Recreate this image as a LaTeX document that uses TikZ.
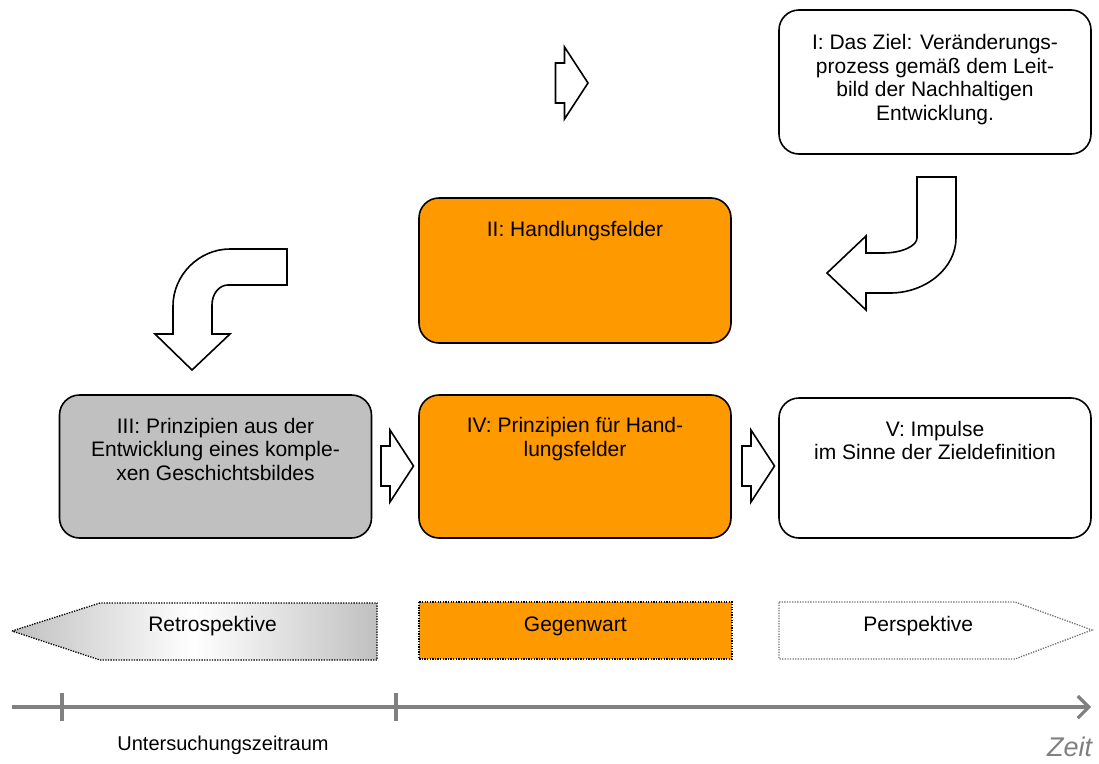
\documentclass[tikz,border=0pt]{standalone}
\usepackage{fontspec}
\setmainfont{Liberation Sans}
\usetikzlibrary{arrows.meta}
\definecolor{boxorange}{HTML}{FF9900}
\definecolor{boxgray}{HTML}{C0C0C0}
\definecolor{axisgray}{HTML}{808080}
\begin{document}
\begin{tikzpicture}[x=1pt,y=-1pt,
  phase/.style={draw=black, line width=1.6pt, rounded corners=20pt,
    minimum width=312pt, inner sep=0pt},
  phasetext/.style={anchor=north, align=center, inner sep=0pt,
    font=\fontsize{21}{23.5}\selectfont},
  blockarrow/.style={draw=black, fill=white, line width=1.6pt, line join=miter},
  band/.style={line width=1.3pt, dash pattern=on 1.3pt off 1.3pt},
  bandtext/.style={anchor=base, inner sep=0pt, font=\fontsize{21}{25}\selectfont},
  timeaxis/.style={draw=axisgray, line width=3.2pt},
  pics/stepright/.style={code={
    \draw[blockarrow] (0,-20) -- (9,-20) -- (9,-36) -- (32.5,0) -- (9,36)
      -- (9,20) -- (0,20) -- cycle;}},
]
\useasboundingbox (0,0) rectangle (1099,763);

% phase boxes
\node[phase, fill=white, minimum height=144pt] (ziel) at (935,82) {};
\node[phase, fill=boxorange, minimum height=145pt] (hf) at (575,270.5) {};
\node[phase, fill=boxgray, minimum height=143pt] (prinz3) at (215.5,466.5) {};
\node[phase, fill=boxorange, minimum height=143pt] (prinz4) at (575,466.5) {};
\node[phase, fill=white, minimum height=140pt] (impulse) at (935,468) {};

% box labels
\node[phasetext] (zieltext) at (935,34.5)
  {I: Das Ziel: Veränderungs-\\prozess gemäß dem Leit-\\bild der Nachhaltigen\\Entwicklung.};
\node[phasetext] (hftext) at (575,221) {II: Handlungsfelder};
\node[phasetext] (prinz3text) at (215.5,418)
  {III: Prinzipien aus der\\Entwicklung eines komple-\\xen Geschichtsbildes};
\node[phasetext] (prinz4text) at (575,417.5) {IV: Prinzipien für Hand-\\lungsfelder};
\node[phasetext] (impulsetext) at (935,421) {V: Impulse\\im Sinne der Zieldefinition};

% straight block arrows
\pic at (555.5,83) {stepright};
\pic at (381,466) {stepright};
\pic at (742,466) {stepright};

% bent arrow from I down and left towards II
\draw[blockarrow] (917,177) -- (956,177) -- (956,238)
  .. controls (956,268) and (926,293) .. (890,293) -- (866,293) -- (866,310)
  -- (827,273) -- (866,236) -- (866,253) -- (883,253)
  .. controls (902,253) and (917,246) .. (917,238) -- cycle;

% bent arrow from II down towards III
\draw[blockarrow] (287,249) -- (287,285) -- (228,285)
  .. controls (219,285) and (212,294) .. (212,305) -- (212,334) -- (230,334)
  -- (192,370) -- (155,334) -- (173,334) -- (173,306)
  .. controls (173,275) and (199,249) .. (230,249) -- cycle;

% time bands
\path[band, draw=black, left color=boxgray, right color=boxgray, middle color=white]
  (12,631) -- (100,603) -- (377,603) -- (377,660) -- (100,660) -- cycle;
\path[band, draw=black, fill=boxorange] (419,602) rectangle (732,659);
\path[band, draw=black!55, fill=white]
  (779,602) -- (1015,602) -- (1092,630) -- (1015,659) -- (779,659) -- cycle;
\node[bandtext] (retro) at (212.5,631.7) {Retrospektive};
\node[bandtext] (gegen) at (575.3,631.7) {Gegenwart};
\node[bandtext] (persp) at (918.3,631.7) {Perspektive};

% time axis
\coordinate (zstart) at (12,707);
\coordinate (zend) at (1091,707);
\coordinate (ta) at (62,693);
\coordinate (tb) at (62,721);
\coordinate (tc) at (396,693);
\coordinate (td) at (396,721);
\draw[timeaxis, -{Straight Barb[length=11pt,width=22pt]}] (zstart) -- (zend);
\draw[timeaxis] (ta) -- (tb);
\draw[timeaxis] (tc) -- (td);
\node[bandtext, font=\fontsize{20}{24}\selectfont] (zeitraum) at (223,750) {Untersuchungszeitraum};
\node[anchor=base, inner sep=0pt, text=axisgray,
  font=\fontsize{27}{30}\selectfont\itshape] (zeit) at (1069.5,756) {Zeit};
\end{tikzpicture}
\end{document}
